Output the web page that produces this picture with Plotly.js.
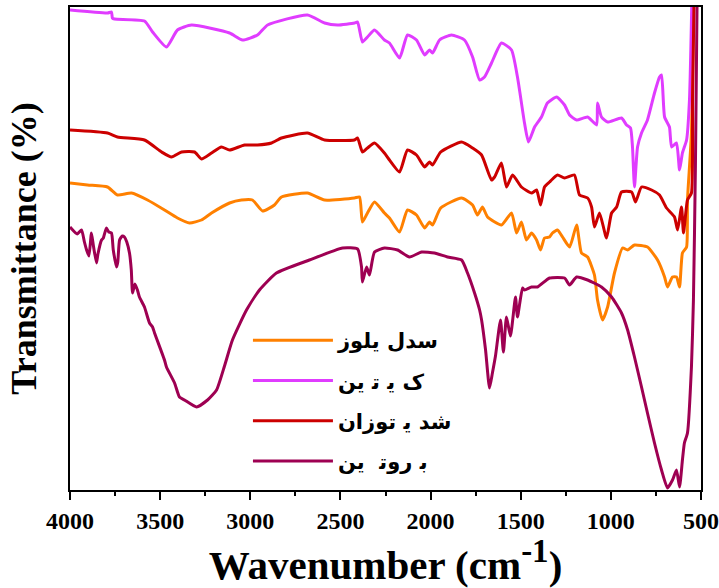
<!DOCTYPE html>
<html>
<head>
<meta charset="utf-8">
<script src="https://cdn.plot.ly/plotly-3.0.1.min.js"></script>
<style>html,body{margin:0;padding:0;background:#fff;}#chart{width:719px;height:588px;}</style>
</head>
<body>
<div id="chart"></div>
<script>
// Legend labels (as shown in the reference)
const seriesNames = ["سدل ی\u200Dلوز", "ک ی\u200D ت\u200D ین", "شد ی\u200D توزان", "ب\u200D روت\u200D\u00A0 ین"];

// Cellulose (orange)
const celluloseWn = [4000,3903,3792,3737,3659,3570,3476,3404,3337,3271,3215,3115,3049,2988,2932,2866,2827,2683,2588,2422,2394,2378,2350,2311,2256,2228,2172,2128,2078,2033,2006,1989,1944,1828,1767,1740,1712,1684,1607,1551,1523,1496,1468,1440,1412,1390,1368,1340,1324,1296,1268,1229,1190,1163,1129,1091,1074,1046,1018,980,935,907,869,797,741,702,686,658,636,619,603,580,575,553,540];
const celluloseT  = [76.75,76.25,75.75,73.75,74.25,72.5,70,68,66.75,67.5,69.25,71.75,72.5,72.5,69.75,71.25,73.25,74.25,72.5,73,73.25,67,69.25,72,69.25,68,64.5,70,68.75,65.5,67,66.25,70.5,73,71.25,68.75,70.75,68.25,66.25,69.25,64.25,67,62.5,64.25,62.5,60,63,63.25,64.25,65,63.25,60.75,66.25,59.25,58.25,53.75,47.5,42.5,45.75,54.25,60.5,60,61.25,60.75,57.5,53.25,50.75,53.25,53.25,50.75,59.25,60.75,72.5,89.25,130];

// Chitin (violet)
const chitinWn = [4000,3792,3770,3765,3753,3587,3542,3465,3404,3326,3115,3043,2960,2904,2683,2588,2516,2422,2405,2378,2350,2311,2256,2228,2172,2128,2078,2033,2006,1989,1950,1884,1812,1767,1728,1701,1662,1607,1551,1518,1479,1457,1423,1385,1352,1301,1257,1229,1190,1129,1079,1074,1052,1018,941,913,891,880,869,852,830,797,758,730,719,702,675,663,636,619,603,580,564,545];
const chitinT  = [120,119.25,119.5,118,117.75,117.25,114.5,110.75,115,116.25,114.25,112.5,113.75,116.25,118.75,116.75,116.25,116.75,117,112,113.25,115,112.5,111.75,108,113.75,112.5,108.75,110,109.25,112.5,113.75,112.5,108.25,102.5,103.25,106.75,111.75,110,103.25,91.75,87,90.75,93.25,96.75,98.25,96.25,93.75,92.5,93.25,91.25,96.75,93.25,92,93,91.25,90.5,85.75,75.75,85.75,89.25,92.5,99.25,103.25,103.75,93.25,90.75,85.75,86.75,80,84.25,87.5,97.5,135];

// Chitosan (red)
const chitosanWn = [4000,3792,3737,3587,3492,3437,3381,3309,3271,3215,3160,3115,3032,2960,2882,2827,2683,2588,2422,2405,2378,2350,2311,2256,2228,2172,2128,2078,2033,2006,1989,1944,1828,1767,1717,1662,1645,1607,1579,1545,1496,1440,1412,1390,1368,1340,1329,1296,1257,1202,1174,1129,1107,1091,1063,1024,996,968,941,885,863,830,774,730,691,647,630,608,597,575,553,547,536];
const chitosanT  = [90,89.25,88.25,87.5,84.5,83.25,84.5,84.5,82.75,84.25,85.75,85,86.25,86.25,86.75,88,89.25,87.5,87.5,88,84.5,85.5,86.75,84.25,82.5,79.5,85,83.75,80.75,82,81.25,84.5,87,85.5,83.75,77.5,78.25,81.75,75.75,78.75,75.75,74.25,75,71.25,75.75,77,77.5,78.75,78,78.75,73.75,73,70.75,65.75,69.25,63,69.25,70.75,74.5,74.5,72,75.75,75,73.75,70.5,68.25,65,70.75,64.25,72.5,74.25,97.5,130];

// Protein (dark magenta)
const proteinWn = [4000,3960,3936,3920,3908,3895,3881,3870,3853,3845,3825,3815,3798,3785,3770,3760,3742,3735,3725,3710,3698,3685,3670,3660,3653,3640,3626,3615,3587,3559,3542,3531,3476,3465,3420,3393,3365,3298,3237,3187,3143,3099,3021,2949,2855,2672,2488,2405,2383,2378,2355,2339,2311,2256,2183,2117,2050,1978,1906,1828,1795,1756,1728,1717,1695,1673,1657,1640,1612,1596,1579,1557,1529,1518,1490,1479,1440,1407,1340,1257,1229,1190,1129,1052,996,941,907,869,830,797,758,719,686,658,636,619,603,592,575,553,542,531,520];
const proteinT  = [65.75,64,65,62,60,58.5,64.25,61,56.75,59,62.5,63,65.5,64.5,64.25,60,55.75,57,62.5,63.5,63.25,62,59.25,55,49.25,51.5,50,48.25,45.75,41.75,40.75,39.25,32.5,30.75,26.75,23.25,22.5,20.75,22.5,25,31,37.5,45,50,54.25,57.5,60.5,60.25,55.75,52,55.75,53.75,59.5,60.5,60,58.25,59.5,59.25,58.25,57.5,54.25,49.25,45,42.5,35,25.5,29.25,33.5,42.5,34.5,43.25,38.5,48.25,43.25,50.5,50,50.75,50.75,53,53,51.25,53.25,52.5,50.75,48.25,44.25,40,33.25,25.75,19.25,11.75,5,0.5,2.5,5,0.75,7.5,11.75,14.25,30.75,47.5,80.75,130];

// Axis ticks
const xTickVals = [4000,3500,3000,2500,2000,1500,1000,500];
const xTickText = ["4000","3500","3000","2500","2000","1500","1000","500"];

const colors = ["#FF8000", "#E03CFF", "#CC0000", "#9E0052"];
const xs = [celluloseWn, chitinWn, chitosanWn, proteinWn];
const ys = [celluloseT, chitinT, chitosanT, proteinT];

const traces = xs.map((x, i) => ({
  x: x, y: ys[i], type: 'scatter', mode: 'lines',
  name: seriesNames[i], legendgroup: 'g' + i,
  line: {color: colors[i], width: 3, shape: 'spline', smoothing: 0.5}
}));

const serif = 'Liberation Serif, Times New Roman, serif';
const layout = {
  width: 719, height: 588,
  margin: {l: 70, r: 18, t: 7, b: 98},
  paper_bgcolor: '#fff', plot_bgcolor: '#fff',
  showlegend: true,
  legend: {
    x: 0.282, y: 0.352, xanchor: 'left', yanchor: 'top',
    bgcolor: 'rgba(0,0,0,0)', traceorder: 'grouped', tracegroupgap: 10,
    itemwidth: 80,
    font: {family: 'DejaVu Sans, sans-serif', size: 21, color: '#000', weight: 'bold'}
  },
  xaxis: {
    range: [4000, 500], tickvals: xTickVals, ticktext: xTickText,
    showgrid: false, zeroline: false,
    showline: true, mirror: true, linewidth: 2, linecolor: '#000',
    ticks: 'outside', ticklen: 8, tickwidth: 2, tickcolor: '#000',
    minor: {dtick: 250, ticks: 'outside', ticklen: 4, tickwidth: 2, tickcolor: '#000', showgrid: false},
    tickfont: {family: serif, size: 24, color: '#000', weight: 'bold'},
    title: {text: 'Wavenumber (cm<sup><span style="font-size:33px">-1</span></sup>)',
      font: {family: serif, size: 41, color: '#000', weight: 'bold'}}
  },
  yaxis: {
    range: [0, 120.75], showticklabels: false, ticks: '',
    showgrid: false, zeroline: false,
    showline: true, mirror: true, linewidth: 2, linecolor: '#000',
    title: {text: 'Transmittance (%)', standoff: 20,
      font: {family: serif, size: 36, color: '#000', weight: 'bold'}}
  }
};

Plotly.newPlot('chart', traces, layout, {displayModeBar: false, staticPlot: true});
</script>
</body>
</html>
